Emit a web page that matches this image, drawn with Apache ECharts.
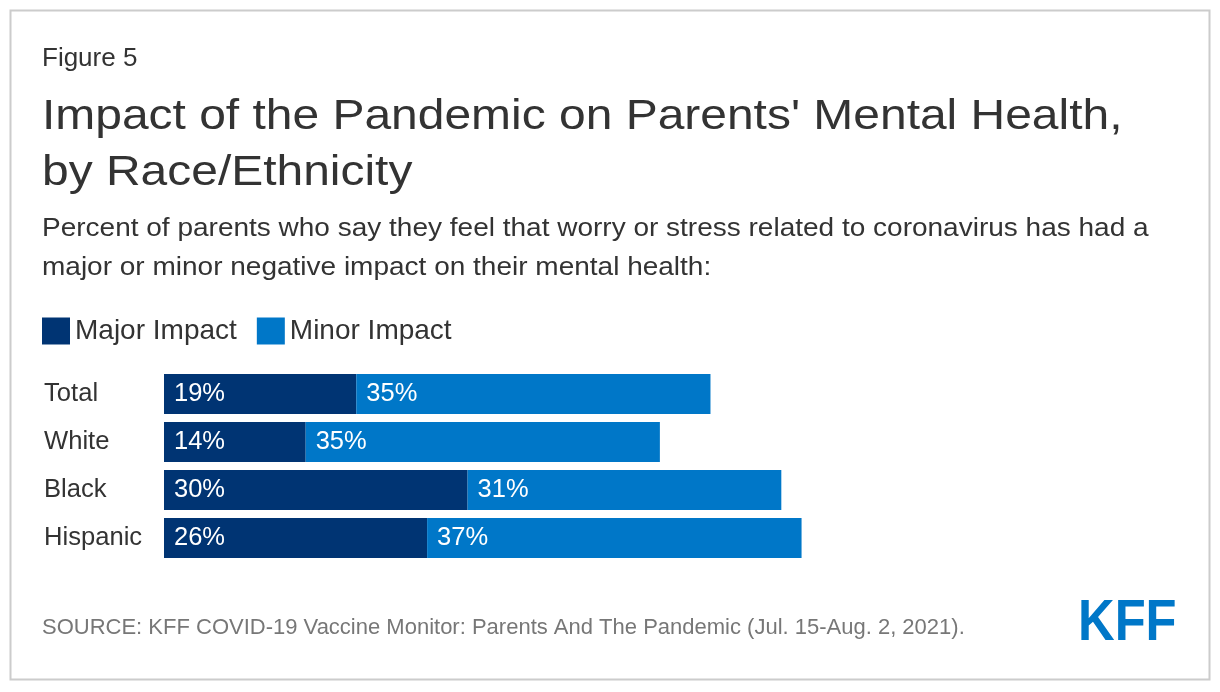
<!DOCTYPE html>
<html><head><meta charset="utf-8">
<script src="https://cdn.jsdelivr.net/npm/echarts@6/dist/echarts.min.js"></script>
<style>html,body{margin:0;padding:0;background:#fff}#c{width:1220px;height:692px}</style>
</head><body><div id="c"></div>
<script>
const categories = ["Total", "White", "Black", "Hispanic"];
const majorImpact = [19, 14, 30, 26];
const minorImpact = [35, 35, 31, 37];
const seriesNames = ["Major Impact", "Minor Impact"];

const FONT = "Liberation Sans";
const chart = echarts.init(document.getElementById('c'), null, {renderer: 'canvas'});
const lbl = {show: true, position: 'insideLeft', distance: 10, color: '#fff', fontSize: 25.5, fontFamily: FONT, formatter: p => p.value + '%'};
function txt(x, y, text, size, lh, fill, extra) {
  return Object.assign({type: 'text', x: x, y: y, silent: true,
    style: {text: text, fontSize: size, lineHeight: lh, fill: fill, fontFamily: FONT, verticalAlign: 'top', align: 'left'}}, extra || {});
}
const kff = txt(1078, 594, 'KFF', 57, 60, '#0077c8', {scaleX: 0.89});
kff.style.fontWeight = 'bold';
chart.setOption({
  animation: false,
  backgroundColor: '#fff',
  textStyle: {fontFamily: FONT},
  graphic: [
    {type: 'rect', shape: {x: 10.5, y: 10.5, width: 1199, height: 669}, style: {fill: 'none', stroke: '#cccccc', lineWidth: 2}},
    txt(42, 44, 'Figure 5', 26, 30, '#333'),
    txt(42, 89.5, "Impact of the Pandemic on Parents' Mental Health,\nby Race/Ethnicity", 43, 56, '#333', {scaleX: 1.115}),
    txt(42, 210, 'Percent of parents who say they feel that worry or stress related to coronavirus has had a\nmajor or minor negative impact on their mental health:', 25, 39, '#333', {scaleX: 1.12}),
    txt(42, 613, 'SOURCE: KFF COVID-19 Vaccine Monitor: Parents And The Pandemic (Jul. 15-Aug. 2, 2021).', 22, 30, '#777'),
    kff
  ],
  legend: {
    left: 37, top: 312, itemWidth: 28, itemHeight: 27, itemGap: 20,
    icon: 'rect', data: seriesNames,
    textStyle: {fontSize: 28, color: '#333', fontFamily: FONT}
  },
  grid: {left: 164, top: 370, width: 1012, height: 192, containLabel: false},
  xAxis: {type: 'value', min: 0, max: 100, show: false},
  yAxis: {
    type: 'category', data: categories, inverse: true,
    axisLine: {show: false}, axisTick: {show: false},
    axisLabel: {align: 'left', margin: 120, fontSize: 25.6, color: '#333', fontFamily: FONT, padding: [2, 0, 0, 0]}
  },
  series: [
    {name: seriesNames[0], type: 'bar', stack: 's', data: majorImpact, barWidth: 40, itemStyle: {color: '#003473'}, label: lbl},
    {name: seriesNames[1], type: 'bar', stack: 's', data: minorImpact, barWidth: 40, itemStyle: {color: '#0077c8'}, label: lbl}
  ]
});
</script></body></html>
